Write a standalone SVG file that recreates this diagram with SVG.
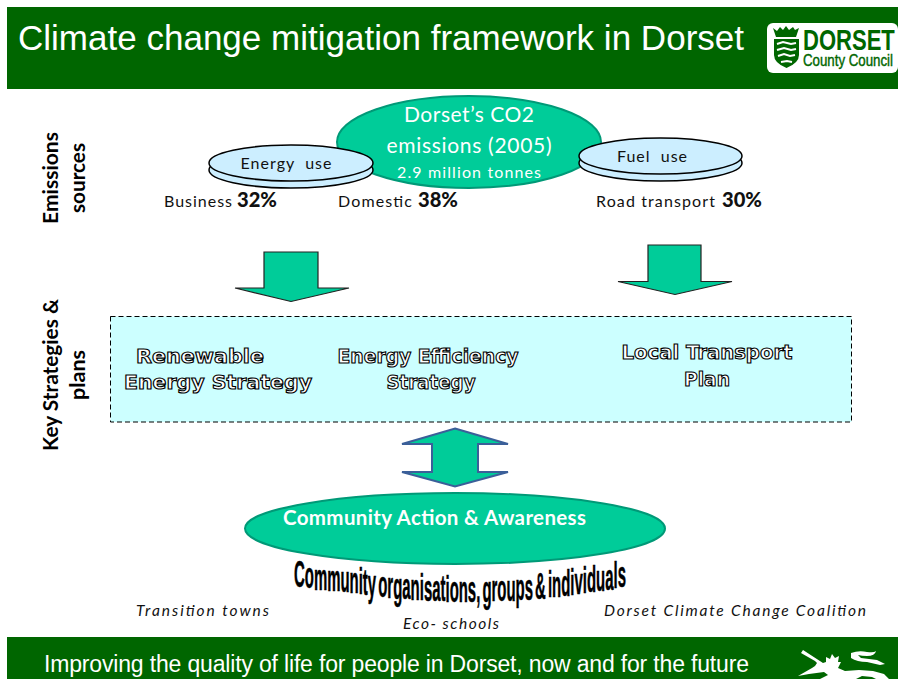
<svg xmlns="http://www.w3.org/2000/svg" width="898" height="679" viewBox="0 0 898 679">
<style>
.band{fill:#006600}
.sans{font-family:"Liberation Sans",Arial,sans-serif}
.cal{font-family:Lato,"Open Sans",sans-serif}
.big{fill:#00cc99;stroke:#009977;stroke-width:2}
.disc{fill:#cceeff;stroke:#000;stroke-width:1.5}
.arrow{fill:#00cc99;stroke:#222;stroke-width:1.2}
.lab{font-size:16px;fill:#111}
.pct{font-size:21px;font-weight:900;fill:#111}
.side{font-size:20px;font-weight:700;fill:#000;text-anchor:middle}
.out{font-family:"DejaVu Sans",sans-serif;font-size:19px;font-weight:700;fill:#fff;stroke:#000;stroke-width:1.100;text-anchor:middle}
.note{font-size:15.500px;font-style:italic;fill:#111}
</style>
<rect width="898" height="679" fill="#fff"/>
<g id="header">
<rect class="band" x="7" y="7" width="891" height="82"/>
<text class="sans" x="18" y="50" font-size="35" fill="#fff" textLength="726" lengthAdjust="spacing">Climate change mitigation framework in Dorset</text>
</g>
<g id="logo">
<rect x="767" y="23" width="131" height="50" rx="6" fill="#fff"/>
<path d="M773 28l4 3 3-4 3 3 3-4 3 4 4-3 2 3 4-2-3 9h-20z" fill="#006600"/>
<path d="M774 39h25v16q0 8-12.500 13q-12.500-5-12.500-13z" fill="#006600"/>
<path d="M777 44l6-2 8 2 5-1M777 50l7-2 7 2 5-1M778 56l6-2 6 2 5-1M781 62l6-1 5 1" stroke="#fff" stroke-width="2" fill="none"/>
<text class="sans" transform="translate(803,50) scale(0.76,1)" font-size="29" font-weight="700" fill="#006600">DORSET</text>
<text class="sans" transform="translate(803,66) scale(0.83,1)" font-size="16" fill="#006600" stroke="#006600" stroke-width="0.400">County Council</text>
</g>
<g id="footer">
<rect class="band" x="7" y="637" width="891" height="42"/>
<text class="sans" x="44" y="672" font-size="23" fill="#fff" textLength="705" lengthAdjust="spacing">Improving the quality of life for people in Dorset, now and for the future</text>
<path d="M801 653l2-3 20 13 3-1 0-5 4 2 2-5 3 4 4-2-1 6 3 0-3 6 7 3 14-1 14 1 11 3 6 6h-12l-6-3-10-1-8 4h-36l10-5-4-3-15 2-11 2 14-8 3-2 2-3-2-2z" fill="#fff"/>
<path d="M851 653q8-3 16-1 7 1 9-1-1 5-9 5-5 0-9-1l3 3 16 2 8 4-5 1-13-3q-10 0-16-4 0-4 0-5z" fill="#fff"/>
</g>
<g id="source-emissions">
<ellipse class="big" cx="469" cy="142" rx="132" ry="46"/>
<text class="cal" x="469" y="122" font-size="21" fill="#fff" text-anchor="middle" textLength="130" lengthAdjust="spacing">Dorset’s CO2</text>
<text class="cal" x="469" y="153" font-size="21" fill="#fff" text-anchor="middle" textLength="165" lengthAdjust="spacing">emissions (2005)</text>
<text class="cal" x="469" y="178" font-size="16" fill="#fff" text-anchor="middle" textLength="144" lengthAdjust="spacing">2.9 million tonnes</text>
</g>
<g id="energy-use">
<ellipse class="disc" cx="291" cy="170" rx="82" ry="18"/>
<ellipse class="disc" cx="291" cy="163" rx="82" ry="18"/>
<text class="cal" x="286" y="169" font-size="16" fill="#111" text-anchor="middle" textLength="91" lengthAdjust="spacing" xml:space="preserve">Energy  use</text>
</g>
<g id="fuel-use">
<ellipse class="disc" cx="660.500" cy="163" rx="81.500" ry="18"/>
<ellipse class="disc" cx="660.500" cy="156" rx="81.500" ry="18"/>
<text class="cal" x="652" y="162" font-size="16" fill="#111" text-anchor="middle" textLength="70" lengthAdjust="spacing" xml:space="preserve">Fuel  use</text>
</g>
<g id="shares">
<text class="cal lab" x="164" y="207" textLength="68" lengthAdjust="spacing">Business</text>
<text class="cal pct" x="237" y="207" textLength="40" lengthAdjust="spacingAndGlyphs">32%</text>
<text class="cal lab" x="338" y="207" textLength="74" lengthAdjust="spacing">Domestic</text>
<text class="cal pct" x="418" y="207" textLength="40" lengthAdjust="spacingAndGlyphs">38%</text>
<text class="cal lab" x="596" y="207" textLength="119" lengthAdjust="spacing">Road transport</text>
<text class="cal pct" x="722" y="207" textLength="40" lengthAdjust="spacingAndGlyphs">30%</text>
</g>
<g id="side-labels">
<text class="cal side" transform="translate(58,178) rotate(-90)" textLength="92" lengthAdjust="spacingAndGlyphs">Emissions</text>
<text class="cal side" transform="translate(85,178) rotate(-90)" textLength="70" lengthAdjust="spacingAndGlyphs">sources</text>
<text class="cal side" transform="translate(58,375) rotate(-90)" textLength="152" lengthAdjust="spacingAndGlyphs">Key Strategies &amp;</text>
<text class="cal side" transform="translate(85,375) rotate(-90)" textLength="50" lengthAdjust="spacingAndGlyphs">plans</text>
</g>
<g id="connectors">
<path class="arrow" d="M264 252H318V288H349L291 301.500 235 288H264Z"/>
<path class="arrow" d="M648 245H701V281.500H732L675 294.500 618 281.500H648Z"/>
<path d="M455 428.500L508 444H478V472H508L455 486.500 402 472H432V444H402Z" fill="#00cc99" stroke="#3b5f99" stroke-width="2"/>
</g>
<g id="strategies">
<rect x="110.500" y="316.500" width="741" height="105.500" fill="#ccffff" stroke="#000" stroke-width="1" stroke-dasharray="5 3"/>
<text class="out" x="200" y="363" textLength="128" lengthAdjust="spacingAndGlyphs">Renewable</text>
<text class="out" x="218" y="389" textLength="188" lengthAdjust="spacingAndGlyphs">Energy Strategy</text>
<text class="out" x="428" y="363" textLength="181" lengthAdjust="spacingAndGlyphs">Energy Efficiency</text>
<text class="out" x="431" y="389" textLength="89" lengthAdjust="spacingAndGlyphs">Strategy</text>
<text class="out" x="707" y="359" textLength="171" lengthAdjust="spacingAndGlyphs">Local Transport</text>
<text class="out" x="707" y="386" textLength="46" lengthAdjust="spacingAndGlyphs">Plan</text>
</g>
<g id="community">
<ellipse class="big" cx="455" cy="528.500" rx="210" ry="35.500"/>
<text class="cal" x="283" y="525" font-size="20.500" font-weight="700" fill="#fff" textLength="303" lengthAdjust="spacing">Community Action &amp; Awareness</text>
</g>
<g id="organisations">
<text class="sans" transform="translate(294,0) scale(0.415,1)" x="0" font-size="36" font-weight="700" word-spacing="-5" fill="#000" stroke="#000" stroke-width="0.500" y="587 588.300 589.600 590.800 592 593 594.100 595 595.900 596.800 597.500 598.200 598.900 599.500 600 600.500 600.900 601.200 601.500 601.700 601.900 602 602 602 601.900 601.700 601.500 601.200 600.900 600.500 600 599.500 598.900 598.200 597.500 596.800 595.900 595 594.100 593 592 590.800 589.600 588.300 587">Community organisations, groups &amp; individuals</text>
<text class="cal note" x="136" y="616" textLength="133" lengthAdjust="spacing">Transition towns</text>
<text class="cal note" x="403" y="629" textLength="96" lengthAdjust="spacing">Eco- schools</text>
<text class="cal note" x="604" y="616" textLength="262" lengthAdjust="spacing">Dorset Climate Change Coalition</text>
</g>
</svg>
